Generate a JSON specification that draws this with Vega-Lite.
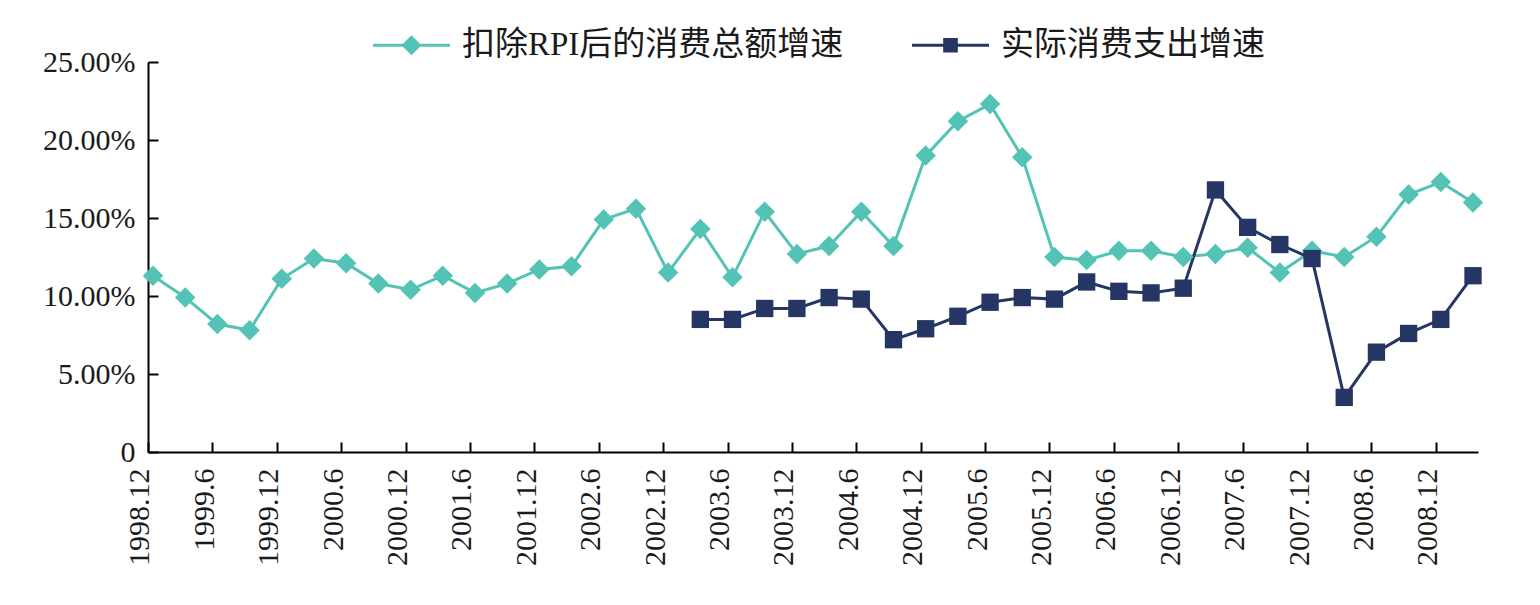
{
  "$schema": "https://vega.github.io/schema/vega-lite/v6.json",
  "autosize": "none",
  "width": 1330,
  "height": 390,
  "padding": {"left": 148, "top": 62, "right": 62, "bottom": 153},
  "background": "#ffffff",
  "data": {
    "values": [
      {"q": "1998.12", "扣除RPI后的消费总额增速": 11.3, "实际消费支出增速": null},
      {"q": "1999.3", "扣除RPI后的消费总额增速": 9.9, "实际消费支出增速": null},
      {"q": "1999.6", "扣除RPI后的消费总额增速": 8.2, "实际消费支出增速": null},
      {"q": "1999.9", "扣除RPI后的消费总额增速": 7.8, "实际消费支出增速": null},
      {"q": "1999.12", "扣除RPI后的消费总额增速": 11.1, "实际消费支出增速": null},
      {"q": "2000.3", "扣除RPI后的消费总额增速": 12.4, "实际消费支出增速": null},
      {"q": "2000.6", "扣除RPI后的消费总额增速": 12.1, "实际消费支出增速": null},
      {"q": "2000.9", "扣除RPI后的消费总额增速": 10.8, "实际消费支出增速": null},
      {"q": "2000.12", "扣除RPI后的消费总额增速": 10.4, "实际消费支出增速": null},
      {"q": "2001.3", "扣除RPI后的消费总额增速": 11.3, "实际消费支出增速": null},
      {"q": "2001.6", "扣除RPI后的消费总额增速": 10.2, "实际消费支出增速": null},
      {"q": "2001.9", "扣除RPI后的消费总额增速": 10.8, "实际消费支出增速": null},
      {"q": "2001.12", "扣除RPI后的消费总额增速": 11.7, "实际消费支出增速": null},
      {"q": "2002.3", "扣除RPI后的消费总额增速": 11.9, "实际消费支出增速": null},
      {"q": "2002.6", "扣除RPI后的消费总额增速": 14.9, "实际消费支出增速": null},
      {"q": "2002.9", "扣除RPI后的消费总额增速": 15.6, "实际消费支出增速": null},
      {"q": "2002.12", "扣除RPI后的消费总额增速": 11.5, "实际消费支出增速": null},
      {"q": "2003.3", "扣除RPI后的消费总额增速": 14.3, "实际消费支出增速": 8.5},
      {"q": "2003.6", "扣除RPI后的消费总额增速": 11.2, "实际消费支出增速": 8.5},
      {"q": "2003.9", "扣除RPI后的消费总额增速": 15.4, "实际消费支出增速": 9.2},
      {"q": "2003.12", "扣除RPI后的消费总额增速": 12.7, "实际消费支出增速": 9.2},
      {"q": "2004.3", "扣除RPI后的消费总额增速": 13.2, "实际消费支出增速": 9.9},
      {"q": "2004.6", "扣除RPI后的消费总额增速": 15.4, "实际消费支出增速": 9.8},
      {"q": "2004.9", "扣除RPI后的消费总额增速": 13.2, "实际消费支出增速": 7.2},
      {"q": "2004.12", "扣除RPI后的消费总额增速": 19.0, "实际消费支出增速": 7.9},
      {"q": "2005.3", "扣除RPI后的消费总额增速": 21.2, "实际消费支出增速": 8.7},
      {"q": "2005.6", "扣除RPI后的消费总额增速": 22.3, "实际消费支出增速": 9.6},
      {"q": "2005.9", "扣除RPI后的消费总额增速": 18.9, "实际消费支出增速": 9.9},
      {"q": "2005.12", "扣除RPI后的消费总额增速": 12.5, "实际消费支出增速": 9.8},
      {"q": "2006.3", "扣除RPI后的消费总额增速": 12.3, "实际消费支出增速": 10.9},
      {"q": "2006.6", "扣除RPI后的消费总额增速": 12.9, "实际消费支出增速": 10.3},
      {"q": "2006.9", "扣除RPI后的消费总额增速": 12.9, "实际消费支出增速": 10.2},
      {"q": "2006.12", "扣除RPI后的消费总额增速": 12.5, "实际消费支出增速": 10.5},
      {"q": "2007.3", "扣除RPI后的消费总额增速": 12.7, "实际消费支出增速": 16.8},
      {"q": "2007.6", "扣除RPI后的消费总额增速": 13.1, "实际消费支出增速": 14.4},
      {"q": "2007.9", "扣除RPI后的消费总额增速": 11.5, "实际消费支出增速": 13.3},
      {"q": "2007.12", "扣除RPI后的消费总额增速": 12.9, "实际消费支出增速": 12.4},
      {"q": "2008.3", "扣除RPI后的消费总额增速": 12.5, "实际消费支出增速": 3.5},
      {"q": "2008.6", "扣除RPI后的消费总额增速": 13.8, "实际消费支出增速": 6.4},
      {"q": "2008.9", "扣除RPI后的消费总额增速": 16.5, "实际消费支出增速": 7.6},
      {"q": "2008.12", "扣除RPI后的消费总额增速": 17.3, "实际消费支出增速": 8.5},
      {"q": "2009.3", "扣除RPI后的消费总额增速": 16.0, "实际消费支出增速": 11.3}
    ]
  },
  "transform": [
    {"fold": ["扣除RPI后的消费总额增速", "实际消费支出增速"], "as": ["series", "value"]},
    {"filter": "datum.value != null"}
  ],
  "encoding": {
    "x": {
      "field": "q",
      "type": "ordinal",
      "sort": ["1998.12", "1999.3", "1999.6", "1999.9", "1999.12", "2000.3", "2000.6", "2000.9", "2000.12", "2001.3", "2001.6", "2001.9", "2001.12", "2002.3", "2002.6", "2002.9", "2002.12", "2003.3", "2003.6", "2003.9", "2003.12", "2004.3", "2004.6", "2004.9", "2004.12", "2005.3", "2005.6", "2005.9", "2005.12", "2006.3", "2006.6", "2006.9", "2006.12", "2007.3", "2007.6", "2007.9", "2007.12", "2008.3", "2008.6", "2008.9", "2008.12", "2009.3"],
      "scale": {"type": "point", "padding": 0.155},
      "axis": {
        "title": null,
        "values": ["1998.12", "1999.6", "1999.12", "2000.6", "2000.12", "2001.6", "2001.12", "2002.6", "2002.12", "2003.6", "2003.12", "2004.6", "2004.12", "2005.6", "2005.12", "2006.6", "2006.12", "2007.6", "2007.12", "2008.6", "2008.12"],
        "labelAngle": -90,
        "labelPadding": 26,
        "labelOverlap": false,
        "tickOffset": -5,
        "labelOffset": -8
      }
    },
    "y": {
      "field": "value",
      "type": "quantitative",
      "scale": {"domain": [0, 25], "nice": false, "zero": true},
      "axis": {
        "title": null,
        "values": [0, 5, 10, 15, 20, 25],
        "labelExpr": "datum.value == 0 ? '0' : format(datum.value, '.2f') + '%'",
        "labelPadding": 23
      }
    }
  },
  "layer": [
    {
      "mark": {"type": "line", "strokeWidth": 3},
      "encoding": {
        "color": {
          "field": "series",
          "type": "nominal",
          "scale": {
            "domain": ["扣除RPI后的消费总额增速", "实际消费支出增速"],
            "range": ["#52C3B5", "#253664"]
          },
          "legend": {
            "title": null,
            "orient": "none",
            "direction": "horizontal",
            "legendX": 225,
            "legendY": -55.5,
            "padding": 0,
            "symbolSize": 5929,
            "labelFontSize": 33,
            "labelFont": "'Liberation Serif', 'Noto Sans CJK SC'",
            "labelColor": "#1a1a1a",
            "labelOffset": 12,
            "labelLimit": 0,
            "columnPadding": 68,
            "encode": {
              "symbols": {
                "update": {
                  "shape": {"signal": "datum.value === '扣除RPI后的消费总额增速' ? 'M-1,-0.04H1V0.04H-1Z M0,-0.26L0.26,0L0,0.26L-0.26,0Z' : 'M-1,-0.04H1V0.04H-1Z M-0.19,-0.19H0.19V0.19H-0.19Z'"},
                  "fill": {"signal": "scale('color', datum.value)"},
                  "strokeWidth": {"value": 0},
                  "opacity": {"value": 1}
                }
              }
            }
          }
        }
      }
    },
    {
      "transform": [{"filter": "datum.series === '扣除RPI后的消费总额增速'"}],
      "mark": {"type": "point", "shape": "diamond", "filled": true, "opacity": 1, "size": 420, "color": "#52C3B5"}
    },
    {
      "transform": [{"filter": "datum.series === '实际消费支出增速'"}],
      "mark": {"type": "point", "shape": "square", "filled": true, "opacity": 1, "size": 300, "color": "#253664"}
    }
  ],
  "config": {
    "view": {"stroke": null},
    "axis": {
      "grid": false,
      "domainColor": "#000000",
      "domainWidth": 2,
      "tickColor": "#000000",
      "tickWidth": 2,
      "tickSize": -10,
      "labelFont": "Liberation Serif",
      "labelFontSize": 30,
      "labelColor": "#1a1a1a"
    }
  }
}
